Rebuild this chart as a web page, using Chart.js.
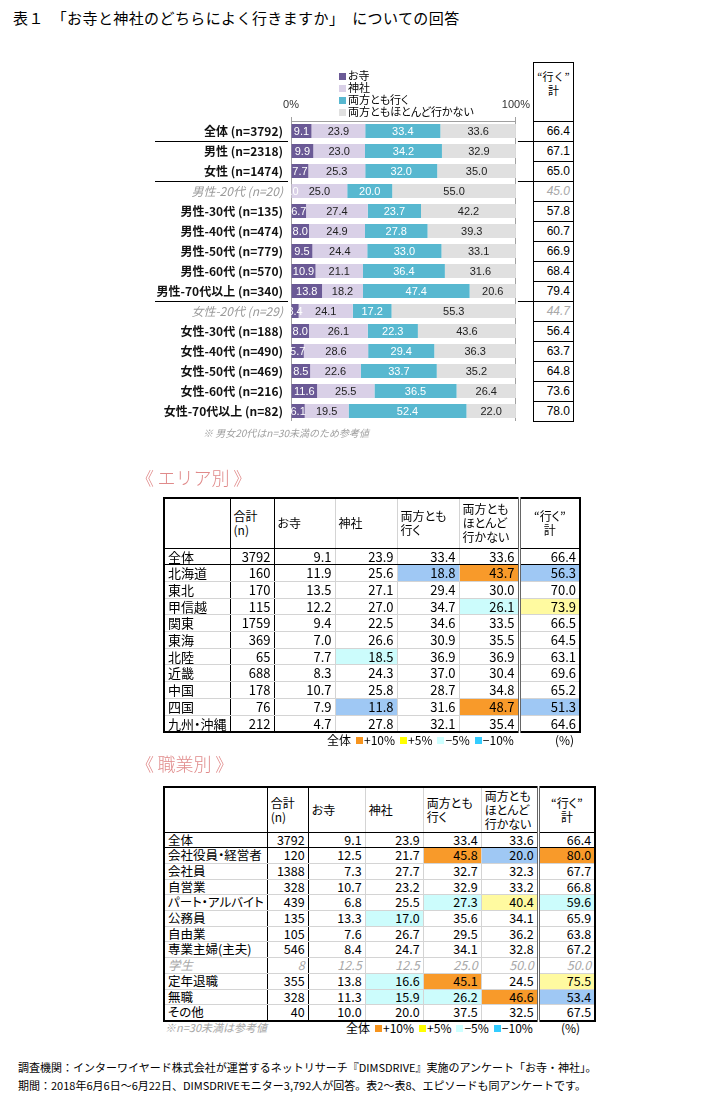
<!DOCTYPE html>
<html><head><meta charset="utf-8">
<script src="https://cdn.jsdelivr.net/npm/chart.js@4.4.1/dist/chart.umd.min.js"></script>
<style>
body{margin:0;background:#fff;}
#page{position:relative;width:710px;height:1107px;overflow:hidden;font-family:"Noto Sans CJK JP","Noto Sans",sans-serif;color:#000;background:#fff;}
.abs{position:absolute;white-space:nowrap;}
#title{left:13px;top:8px;font-size:15px;line-height:20px;letter-spacing:0.4px;}
#bars{position:absolute;left:0;top:60px;}
#legend{left:339px;top:69px;font-size:11px;line-height:12px;font-feature-settings:"palt";}
#legend div{height:12px;}
#legend i{display:inline-block;width:7px;height:7px;margin-right:2px;vertical-align:0px;}
#goBox{position:absolute;left:533px;top:62px;width:41px;border:1px solid #000;box-sizing:border-box;background:#fff;}
#goBox .h{height:58px;text-align:center;padding-top:6px;box-sizing:border-box;font-size:11px;line-height:14px;}
#goBox .r{height:20px;border-top:1px solid #000;box-sizing:border-box;text-align:right;padding-right:3px;font-size:12px;line-height:19px;font-family:"Liberation Sans",Arial,sans-serif;}
#goBox .r.ref{color:#a8a8a8;font-style:italic;}
#note1{left:203px;top:425px;font-size:10px;color:#a0a0a0;font-style:italic;}
.sec{font-size:18px;color:#e08a8a;line-height:22px;font-weight:300;}
table.t{position:absolute;border-collapse:collapse;table-layout:fixed;border:2px solid #000;font-feature-settings:"palt";}
table.t td{padding:0 3px;overflow:hidden;white-space:nowrap;border-bottom:1px solid #d4d4d4;border-left:1px solid #d4d4d4;text-align:right;}
table.t tr.hd td{text-align:left;font-size:12px;line-height:14px;vertical-align:middle;border-bottom:1px solid #000;}
table.t tr.hd td.c{text-align:center;}
table.t tr.tot td{border-bottom:1px solid #000;}
table.t td.nm{text-align:left;}
table.t td.b1{border-left:1px solid #000;}
table.t td.dbl{border-left:3px double #666;}
table.t tr.ref td{color:#a8a8a8;font-style:italic;}
.lg{font-size:12px;font-feature-settings:"palt";}
.lg i{display:inline-block;width:7px;height:7px;margin:0 1px 0 5px;vertical-align:1px;}
#foot{left:18px;top:1058px;font-size:11px;line-height:18px;}
</style></head>
<body><div id="page">
<div id="title" class="abs">表１　「お寺と神社のどちらによく行きますか」　についての回答</div>
<canvas id="bars" width="535" height="380"></canvas>
<div id="legend" class="abs"></div>
<div id="goBox"></div>
<div id="note1" class="abs">※ 男女20代はn=30未満のため参考値</div>

<div class="abs sec" style="left:136px;top:466px;">《&thinsp;エリア別&thinsp;》</div>
<table id="areaTable" class="t" style="left:163px;top:497px;"></table>
<div class="abs lg" id="areaLegend" style="left:327px;top:731px;"></div>
<div class="abs lg" style="left:555px;top:731px;">(%)</div>

<div class="abs sec" style="left:136px;top:752px;">《&thinsp;職業別&thinsp;》</div>
<table id="jobTable" class="t" style="left:163px;top:786px;"></table>
<div class="abs" style="left:165px;top:1019px;font-size:11px;color:#a8a8a8;font-style:italic;">※n=30未満は参考値</div>
<div class="abs lg" id="jobLegend" style="left:346px;top:1019px;"></div>
<div class="abs lg" style="left:561px;top:1019px;">(%)</div>

<div id="foot" class="abs">調査機関：インターワイヤード株式会社が運営するネットリサーチ『DIMSDRIVE』実施のアンケート「お寺・神社」。<br>期間：2018年6月6日～6月22日、DIMSDRIVEモニター3,792人が回答。表2～表8、エピソードも同アンケートです。</div>
</div>
<script>
// ---------- Chart 1 data ----------
const categories = ['全体 (n=3792)','男性 (n=2318)','女性 (n=1474)','男性-20代 (n=20)','男性-30代 (n=135)','男性-40代 (n=474)','男性-50代 (n=779)','男性-60代 (n=570)','男性-70代以上 (n=340)','女性-20代 (n=29)','女性-30代 (n=188)','女性-40代 (n=490)','女性-50代 (n=469)','女性-60代 (n=216)','女性-70代以上 (n=82)'];
const seriesNames = ['お寺','神社','両方とも行く','両方ともほとんど行かない'];
const teraValues    = [9.1, 9.9, 7.7, 0.0, 6.7, 8.0, 9.5, 10.9, 13.8, 3.4, 8.0, 5.7, 8.5, 11.6, 6.1];
const jinjaValues   = [23.9, 23.0, 25.3, 25.0, 27.4, 24.9, 24.4, 21.1, 18.2, 24.1, 26.1, 28.6, 22.6, 25.5, 19.5];
const bothValues    = [33.4, 34.2, 32.0, 20.0, 23.7, 27.8, 33.0, 36.4, 47.4, 17.2, 22.3, 29.4, 33.7, 36.5, 52.4];
const neitherValues = [33.6, 32.9, 35.0, 55.0, 42.2, 39.3, 33.1, 31.6, 20.6, 55.3, 43.6, 36.3, 35.2, 26.4, 22.0];
const goTotals      = [66.4, 67.1, 65.0, 45.0, 57.8, 60.7, 66.9, 68.4, 79.4, 44.7, 56.4, 63.7, 64.8, 73.6, 78.0];
const referenceRows = [3, 9];
const groupBreaks = [0, 2, 8];
const axisTicks = [0, 100];

// ---------- Area table data ----------
const areaNames   = ['全体','北海道','東北','甲信越','関東','東海','北陸','近畿','中国','四国','九州・沖縄'];
const areaN       = [3792, 160, 170, 115, 1759, 369, 65, 688, 178, 76, 212];
const areaTera    = [9.1, 11.9, 13.5, 12.2, 9.4, 7.0, 7.7, 8.3, 10.7, 7.9, 4.7];
const areaJinja   = [23.9, 25.6, 27.1, 27.0, 22.5, 26.6, 18.5, 24.3, 25.8, 11.8, 27.8];
const areaBoth    = [33.4, 18.8, 29.4, 34.7, 34.6, 30.9, 36.9, 37.0, 28.7, 31.6, 32.1];
const areaNeither = [33.6, 43.7, 30.0, 26.1, 33.5, 35.5, 36.9, 30.4, 34.8, 48.7, 35.4];
const areaGo      = [66.4, 56.3, 70.0, 73.9, 66.5, 64.5, 63.1, 69.6, 65.2, 51.3, 64.6];
const areaMarks   = [[0,0,0,0,0],[0,0,-10,10,-10],[0,0,0,0,0],[0,0,0,-5,5],[0,0,0,0,0],[0,0,0,0,0],[0,-5,0,0,0],[0,0,0,0,0],[0,0,0,0,0],[0,-10,0,10,-10],[0,0,0,0,0]];
const areaRefRows = [];

// ---------- Job table data ----------
const jobNames   = ['全体','会社役員・経営者','会社員','自営業','パート・アルバイト','公務員','自由業','専業主婦(主夫)','学生','定年退職','無職','その他'];
const jobN       = [3792, 120, 1388, 328, 439, 135, 105, 546, 8, 355, 328, 40];
const jobTera    = [9.1, 12.5, 7.3, 10.7, 6.8, 13.3, 7.6, 8.4, 12.5, 13.8, 11.3, 10.0];
const jobJinja   = [23.9, 21.7, 27.7, 23.2, 25.5, 17.0, 26.7, 24.7, 12.5, 16.6, 15.9, 20.0];
const jobBoth    = [33.4, 45.8, 32.7, 32.9, 27.3, 35.6, 29.5, 34.1, 25.0, 45.1, 26.2, 37.5];
const jobNeither = [33.6, 20.0, 32.3, 33.2, 40.4, 34.1, 36.2, 32.8, 50.0, 24.5, 46.6, 32.5];
const jobGo      = [66.4, 80.0, 67.7, 66.8, 59.6, 65.9, 63.8, 67.2, 50.0, 75.5, 53.4, 67.5];
const jobMarks   = [[0,0,0,0,0],[0,0,10,-10,10],[0,0,0,0,0],[0,0,0,0,0],[0,0,-5,5,-5],[0,-5,0,0,0],[0,0,0,0,0],[0,0,0,0,0],[0,0,0,0,0],[0,-5,10,0,5],[0,-5,-5,10,-10],[0,0,0,0,0]];
const jobRefRows = [8];

const tableHeaders = ['', '合計<br>(n)', 'お寺', '神社', '両方とも<br>行く', '両方とも<br>ほとんど<br>行かない', '“行く”<br>計'];
const markLabels = ['+10%', '+5%', '−5%', '−10%'];
const markKeys = [10, 5, -5, -10];

// ---------- styles ----------
const seriesColors = ['#6b5a96', '#d9d0e7', '#58b8d0', '#e0e0e0'];
const labelColors = ['#ffffff', '#222222', '#ffffff', '#222222'];
const cellColors = {'10':'#f89a2a', '5':'#fffaa0', '-5':'#ccfcfc', '-10':'#9fc8f4'};
const legendColors = {'10':'#f7941d', '5':'#ffff00', '-5':'#ccffff', '-10':'#33ccff'};
const CJK = '"Noto Sans CJK JP", "Noto Sans", sans-serif';
const LAT = '"Liberation Sans", Arial, sans-serif';

// legend
document.getElementById('legend').innerHTML = seriesNames.map((n,i)=>`<div><i style="background:${seriesColors[i]}"></i>${n}</div>`).join('');

// right "go" column
document.getElementById('goBox').innerHTML = `<div class="h">${tableHeaders[6]}</div>` +
  goTotals.map((v,i)=>`<div class="r${referenceRows.includes(i)?' ref':''}">${v.toFixed(1)}</div>`).join('');

const valueLabels = {
  id:'valueLabels',
  afterDatasetsDraw(chart){
    const c = chart.ctx, a = chart.chartArea;
    c.save();
    c.beginPath(); c.rect(a.left, a.top, a.right-a.left, a.bottom-a.top); c.clip();
    c.font = '11px ' + LAT; c.textAlign = 'center'; c.textBaseline = 'middle';
    chart.data.datasets.forEach((ds, di) => {
      chart.getDatasetMeta(di).data.forEach((el, i) => {
        c.fillStyle = labelColors[di];
        c.fillText(ds.data[i].toFixed(1), (el.x + el.base)/2, el.y + 0.5);
      });
    });
    c.restore();
  }
};
const separators = {
  id:'separators',
  afterDraw(chart){
    const y = chart.scales.y, a = chart.chartArea, c = chart.ctx;
    c.save(); c.strokeStyle = '#000'; c.lineWidth = 1;
    groupBreaks.forEach(i => {
      const py = Math.round((y.getPixelForValue(i) + y.getPixelForValue(i+1))/2) + 0.5;
      c.beginPath();
      c.moveTo(155, py); c.lineTo(a.left - 3, py);
      c.moveTo(a.right + 2, py); c.lineTo(chart.width, py);
      c.stroke();
    });
    c.restore();
  }
};

new Chart(document.getElementById('bars'), {
  type: 'bar',
  data: {
    labels: categories,
    datasets: [teraValues, jinjaValues, bothValues, neitherValues].map((d, i) => ({
      label: seriesNames[i], data: d, backgroundColor: seriesColors[i], borderWidth: 0,
      barPercentage: 0.7, categoryPercentage: 1
    }))
  },
  options: {
    indexAxis: 'y', responsive: false, animation: false,
    layout: { padding: { left: 0, right: 15, top: 0, bottom: 19 } },
    plugins: { legend: { display: false }, tooltip: { enabled: false } },
    scales: {
      x: {
        position: 'top', stacked: true, min: 0, max: 100,
        afterBuildTicks: s => { s.ticks = axisTicks.map(v => ({ value: v })); },
        afterFit: s => { s.height = 61; },
        ticks: { callback: v => v + '%', font: { size: 11, family: LAT }, color: '#333', padding: 5, maxRotation: 0, autoSkip: false },
        grid: { color: '#a0a0a0', tickLength: 4 },
        border: { color: '#a0a0a0' }
      },
      y: {
        stacked: true,
        afterFit: s => { s.width = 291; },
        grid: { display: false, drawTicks: false },
        border: { display: false },
        ticks: {
          padding: 8,
          color: c => referenceRows.includes(c.index) ? '#9a9a9a' : '#111',
          font: c => ({ size: 12, family: CJK, style: referenceRows.includes(c.index) ? 'italic' : 'normal', weight: referenceRows.includes(c.index) ? 'normal' : 'bold' })
        }
      }
    }
  },
  plugins: [valueLabels, separators]
});

// tables
function buildTable(id, names, nArr, cols, marks, refRows, widths, headH, rowH, fontSize){
  const t = document.getElementById(id);
  let h = '<colgroup>' + widths.map(w => `<col style="width:${w}px">`).join('') + '</colgroup>';
  h += `<tr class="hd" style="height:${headH}px">` + tableHeaders.map((x, j) =>
    `<td class="${j===6?'c ':''}${j===1||j===2?'b1 ':''}${j===6?'dbl':''}">${x}</td>`).join('') + '</tr>';
  names.forEach((nm, i) => {
    const cls = (i === 0 ? 'tot ' : '') + (refRows.includes(i) ? 'ref' : '');
    h += `<tr class="${cls}" style="height:${rowH}px;font-size:${fontSize}px;line-height:${rowH-1}px">`;
    h += `<td class="nm">${nm}</td><td class="b1">${nArr[i]}</td>`;
    cols.forEach((col, j) => {
      const m = marks[i][j];
      const bg = m ? `background:${cellColors[m]};` : '';
      h += `<td class="${j===0?'b1':''}${j===4?'dbl':''}" style="${bg}">${col[i].toFixed(1)}</td>`;
    });
    h += '</tr>';
  });
  t.innerHTML = h;
}
buildTable('areaTable', areaNames, areaN, [areaTera, areaJinja, areaBoth, areaNeither, areaGo], areaMarks, areaRefRows,
  [62, 44, 61, 62, 62, 60, 61], 50, 16.7, 13);
buildTable('jobTable', jobNames, jobN, [jobTera, jobJinja, jobBoth, jobNeither, jobGo], jobMarks, jobRefRows,
  [89, 41, 57, 58, 58, 57, 57], 45, 15.7, 12.5);

const lgHtml = '全体' + markKeys.map((k, i) => `<i style="background:${legendColors[k]}"></i>${markLabels[i]}`).join('');
document.getElementById('areaLegend').innerHTML = lgHtml;
document.getElementById('jobLegend').innerHTML = lgHtml;
</script>
</body></html>
